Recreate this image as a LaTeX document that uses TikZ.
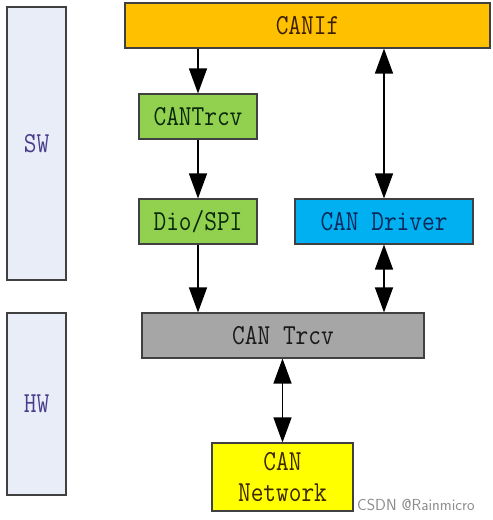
\documentclass[tikz,border=0pt]{standalone}
\usetikzlibrary{arrows.meta}
\definecolor{sidefill}{HTML}{E9EDF8}
\definecolor{sidetext}{HTML}{4A3C8C}
\definecolor{ifill}{HTML}{FFC000}
\definecolor{gfill}{HTML}{92D050}
\definecolor{bfill}{HTML}{00B0F0}
\definecolor{tfill}{HTML}{A6A6A6}
\definecolor{nfill}{HTML}{FFFF00}
\newcommand{\sq}[1]{\scalebox{0.85}[1]{#1}}
\tikzset{
  blk/.style={draw=black!75, line width=1.1pt, rectangle, inner sep=0pt,
    font=\fontsize{29}{31}\selectfont\ttfamily, align=center},
  arr/.style={line width=1.3pt, -{Triangle[width=18pt,length=25pt]}},
  darr/.style={line width=1.3pt, {Triangle[width=18pt,length=25pt]}-{Triangle[width=18pt,length=25pt]}},
}
\begin{document}
\begin{tikzpicture}[x=1pt,y=-1pt]
\useasboundingbox (0,0) rectangle (493,520);
\fill[white] (0,0) rectangle (493,520);
% side bars
\node[blk, fill=sidefill, text=sidetext, minimum width=59pt, minimum height=273pt] (sw) at (36.5,143.5) {\sq{SW}};
\node[blk, fill=sidefill, text=sidetext, minimum width=59pt, minimum height=182pt] (hw) at (36.5,404) {\sq{HW}};
% blocks
\node[blk, fill=ifill, text={rgb,255:red,60;green,30;blue,0}, minimum width=365pt, minimum height=45pt] (canif) at (307.5,25.5) {\sq{CANIf}};
\node[blk, fill=gfill, text={rgb,255:red,10;green,40;blue,10}, minimum width=118pt, minimum height=45pt] (cantrcv) at (198,116.5) {\sq{CANTrcv}};
\node[blk, fill=gfill, text={rgb,255:red,10;green,40;blue,10}, minimum width=118pt, minimum height=45pt] (dio) at (198,221.5) {\sq{Dio/SPI}};
\node[blk, fill=bfill, text={rgb,255:red,10;green,40;blue,90}, minimum width=178pt, minimum height=45pt] (drv) at (384,221.5) {\sq{CAN Driver}};
\node[blk, fill=tfill, text={rgb,255:red,25;green,25;blue,25}, minimum width=282pt, minimum height=45pt] (trcv) at (283,335.5) {\sq{CAN Trcv}};
\node[blk, fill=nfill, text={rgb,255:red,60;green,40;blue,0}, minimum width=141pt, minimum height=68pt] (net) at (282.5,477) {\sq{CAN}\\\sq{Network}};
% connectors
\draw[arr] (cantrcv.north |- canif.south) -- (cantrcv.north);
\draw[arr] (cantrcv.south) -- (dio.north);
\draw[arr] (dio.south) -- (dio.south |- trcv.north);
\draw[darr] (drv.north |- canif.south) -- (drv.north);
\draw[darr] (drv.south) -- (drv.south |- trcv.north);
\draw[darr] (net.north |- trcv.south) -- (net.north);
% watermark
\node[anchor=west, text={rgb,255:red,140;green,140;blue,140}, font=\fontsize{16}{18}\selectfont\sffamily, inner sep=0pt] (wm) at (357,505) {CSDN @Rainmicro};
\end{tikzpicture}
\end{document}
